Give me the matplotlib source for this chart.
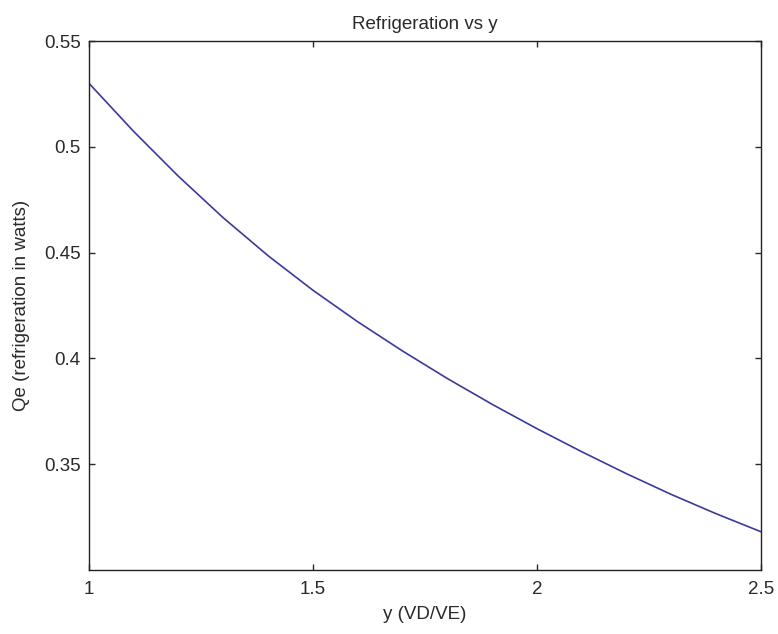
import matplotlib
matplotlib.use("Agg")
import matplotlib.pyplot as plt

plt.rcParams['font.family'] = ['Liberation Sans', 'DejaVu Sans']

y_ratio = [1.0, 1.1, 1.2, 1.3, 1.4, 1.5, 1.6, 1.7, 1.8, 1.9, 2.0, 2.1, 2.2, 2.3, 2.4, 2.5]
qe = [0.5300, 0.5072, 0.4860, 0.4664, 0.4485, 0.4322, 0.4173, 0.4035, 0.3905,
      0.3783, 0.3668, 0.3559, 0.3455, 0.3357, 0.3266, 0.3181]

xticks = [1, 1.5, 2, 2.5]
xticklabels = ['1', '1.5', '2', '2.5']
yticks = [0.35, 0.4, 0.45, 0.5, 0.55]
yticklabels = ['0.35', '0.4', '0.45', '0.5', '0.55']

fig = plt.figure(figsize=(7.78, 6.34), dpi=100)
ax = fig.add_axes([0.1144, 0.1009, 0.8637, 0.8344])
ax.plot(y_ratio, qe, color='#3a3a9e', linewidth=1.2)
ax.set_xlim(1, 2.5)
ax.set_ylim(0.3, 0.55)
ax.set_xticks(xticks)
ax.set_xticklabels(xticklabels)
ax.set_yticks(yticks)
ax.set_yticklabels(yticklabels)
ax.tick_params(direction='in', length=4, width=1, top=True, right=True,
               labelsize=13.5, colors='#2a2a2a')
ax.tick_params(axis='x', pad=8)
ax.tick_params(axis='y', pad=6)
for s in ax.spines.values():
    s.set_linewidth(1.0)
    s.set_color('#222222')
ax.set_title('Refrigeration vs y', fontsize=13.5, color='#2a2a2a', pad=9)
ax.set_xlabel('y (VD/VE)', fontsize=13.5, color='#2a2a2a', labelpad=6)
ax.set_ylabel('Qe (refrigeration in watts)', fontsize=13.5, color='#2a2a2a', labelpad=10)
fig.savefig('out.png', dpi=100)
